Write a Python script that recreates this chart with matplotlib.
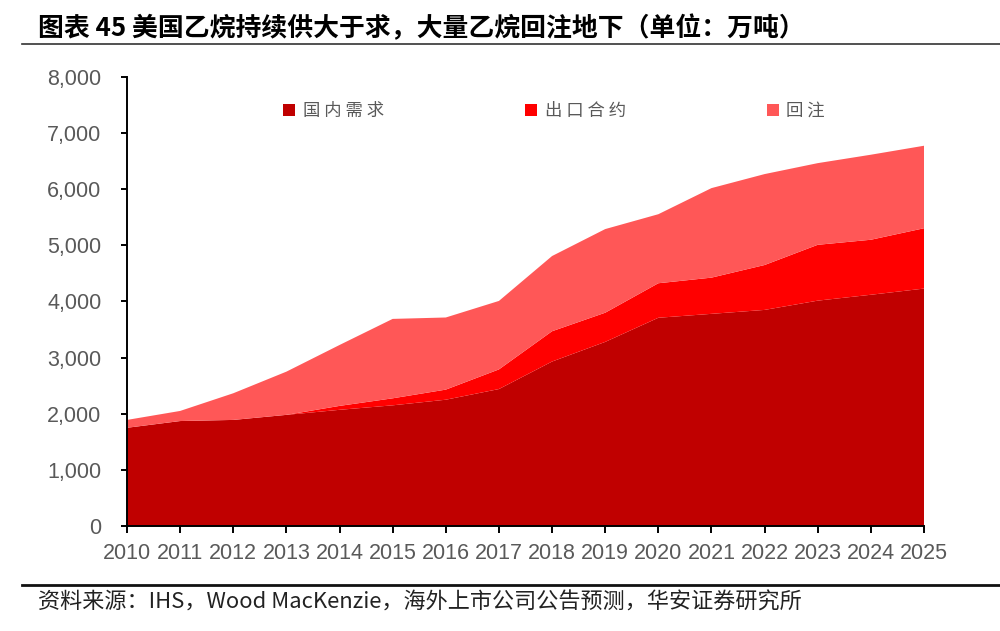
import matplotlib
matplotlib.use("Agg")
import matplotlib.pyplot as plt
from matplotlib.patches import Patch
from matplotlib.lines import Line2D

plt.rcParams['font.family'] = ['Liberation Sans', 'Noto Sans CJK SC', 'DejaVu Sans']

years = list(range(2010, 2026))
domestic = [1750, 1870, 1890, 1980, 2070, 2150, 2250, 2440, 2930, 3280, 3710, 3780, 3850, 4015, 4120, 4230]
export = [0, 0, 0, 0, 70, 125, 180, 350, 540, 520, 615, 645, 800, 995, 980, 1075]
reinject = [140, 180, 475, 770, 1085, 1415, 1285, 1220, 1340, 1490, 1230, 1595, 1620, 1455, 1515, 1470]
series_names = ["国内需求", "出口合约", "回注"]
colors = ["#C00000", "#FF0000", "#FF5757"]
yticks = [0, 1000, 2000, 3000, 4000, 5000, 6000, 7000, 8000]

fig = plt.figure(figsize=(10, 6.31), dpi=100)
ax = fig.add_axes([0.127, 0.1664, 0.797, 0.7116])

ax.stackplot(years, domestic, export, reinject, colors=colors, linewidth=0)
ax.set_xlim(2010, 2025)
ax.set_ylim(0, 8000)
ax.set_xticks(years)
ax.set_xticklabels([str(y) for y in years])
ax.set_yticks(yticks)
ax.set_yticklabels([f"{v:,}" for v in yticks])
for s in ["top", "right"]:
    ax.spines[s].set_visible(False)
for s in ["left", "bottom"]:
    ax.spines[s].set_linewidth(1.4)
    ax.spines[s].set_color("black")
ax.tick_params(axis="both", direction="out", width=1.4, color="black",
               labelsize=15.5, labelcolor="#595959")
ax.tick_params(axis="y", length=4.5, pad=14)
ax.tick_params(axis="x", length=5, pad=7)
ax.set_zorder(1)

handles = [Patch(facecolor=c, edgecolor="none") for c in colors]
labels = [" ".join(n) for n in series_names]
leg = ax.legend(handles, labels, ncol=3, loc="upper left",
                bbox_to_anchor=(0.1875, 0.96), frameon=False,
                prop={'family': ['Noto Sans CJK SC'], 'size': 12.5},
                handlelength=0.66, handleheight=0.66, handletextpad=0.45,
                columnspacing=8.15, borderaxespad=0)
for t in leg.get_texts():
    t.set_color("#595959")

fig.text(0.038, 0.955, "图表 45 美国乙烷持续供大于求，大量乙烷回注地下（单位：万吨）",
         fontsize=18.6, fontweight="bold", va="center", ha="left",
         family=['Noto Sans CJK SC', 'DejaVu Sans'])
fig.add_artist(Line2D([0.022, 1.0], [1 - 44 / 631, 1 - 44 / 631], color="#333333", linewidth=1.2))
fig.add_artist(Line2D([0.022, 1.0], [1 - 585 / 631, 1 - 585 / 631], color="#111111", linewidth=2.0))
fig.text(0.038, 1 - 603 / 631, "资料来源：IHS，Wood MacKenzie，海外上市公司公告预测，华安证券研究所",
         fontsize=15.9, va="center", ha="left", color="#222222",
         family=['Noto Sans CJK SC', 'DejaVu Sans'])

fig.savefig("out.png", dpi=100)
